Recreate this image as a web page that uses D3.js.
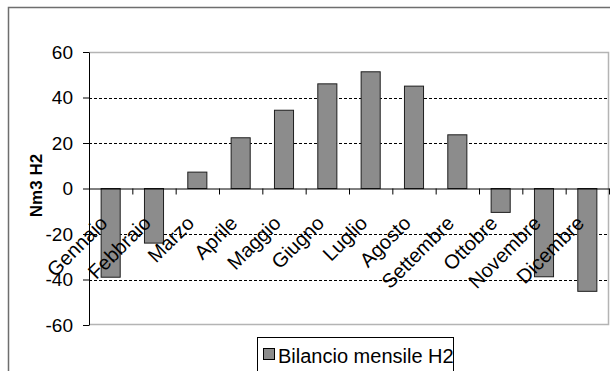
<!DOCTYPE html>
<html>
<head>
<meta charset="utf-8">
<script src="https://cdn.jsdelivr.net/npm/d3@7"></script>
<style>
  body { margin: 0; background: #fff; }
  svg { display: block; font-family: 'Liberation Sans', Arial, sans-serif; }
  .y.axis text { font-size: 19px; fill: #000; }
  .x-label { font-size: 20px; fill: #000; }
</style>
</head>
<body>
<div id="chart"></div>
<script>
// chart data
const months = ['Gennaio', 'Febbraio', 'Marzo', 'Aprile', 'Maggio', 'Giugno',
  'Luglio', 'Agosto', 'Settembre', 'Ottobre', 'Novembre', 'Dicembre']
const balance = [-39, -24, 7.2, 22.3, 34.4, 46, 51.3, 45, 23.6, -10.5, -38.8, -45.2]
const yTicks = [-60, -40, -20, 0, 20, 40, 60]
const gridTicks = [-40, -20, 20, 40]
const seriesName = 'Bilancio mensile H2'

const width = 610
const height = 371
const plot = { left: 89, top: 52, right: 609, bottom: 325 }

const svg = d3.select('#chart').append('svg')
  .attr('width', width)
  .attr('height', height)

// outer chart frame
svg.append('rect')
  .attr('x', 8.5).attr('y', 7.5)
  .attr('width', width + 10).attr('height', height + 10)
  .attr('fill', 'none')
  .attr('stroke', '#6e6e6e')
  .attr('stroke-width', 1.5)

const x = d3.scaleBand()
  .domain(months)
  .range([plot.left, plot.right])
  .paddingInner(0.56)
  .paddingOuter(0.28)

const xEdges = d3.scaleLinear()
  .domain([0, months.length])
  .range([plot.left, plot.right])

const y = d3.scaleLinear()
  .domain([-60, 60])
  .range([plot.bottom, plot.top])

// plot area border (top, right, bottom)
svg.append('path')
  .attr('d', `M${plot.left},${plot.top + 0.5}H${plot.right - 0.5}V${plot.bottom - 0.5}H${plot.left}`)
  .attr('fill', 'none')
  .attr('stroke', '#b4b4b4')
  .attr('stroke-width', 1.5)

// dashed gridlines
svg.append('g')
  .selectAll('line')
  .data(gridTicks)
  .join('line')
  .attr('x1', plot.left)
  .attr('x2', plot.right - 1)
  .attr('y1', d => Math.round(y(d)) + 0.5)
  .attr('y2', d => Math.round(y(d)) + 0.5)
  .attr('stroke', '#000')
  .attr('stroke-dasharray', '3,2')

// bars
svg.append('g')
  .selectAll('rect')
  .data(months)
  .join('rect')
  .attr('x', d => x(d))
  .attr('width', x.bandwidth())
  .attr('y', (d, i) => y(Math.max(0, balance[i])))
  .attr('height', (d, i) => Math.abs(y(balance[i]) - y(0)))
  .attr('fill', '#8c8c8c')
  .attr('stroke', '#1e1e1e')
  .attr('stroke-width', 1)

// y axis (plain hyphen minus like the original)
const yAxis = svg.append('g')
  .attr('class', 'y axis')
  .attr('transform', `translate(${plot.left}, 0)`)
  .call(d3.axisLeft(y)
    .tickValues(yTicks)
    .tickFormat(d => String(d))
    .tickSize(6)
    .tickPadding(10)
    .tickSizeOuter(0))
yAxis.selectAll('text').attr('font-family', null).attr('font-size', null)
yAxis.selectAll('line, path').attr('stroke', '#000')

// x axis on the zero line, ticks at category edges
const xAxis = svg.append('g')
  .attr('transform', `translate(0, ${y(0)})`)
  .call(d3.axisBottom(xEdges)
    .tickValues(d3.range(1, months.length + 1))
    .tickFormat('')
    .tickSize(6)
    .tickSizeOuter(0))
xAxis.selectAll('line, path').attr('stroke', '#000')

// rotated month labels
svg.append('g')
  .selectAll('text')
  .data(months)
  .join('text')
  .attr('class', 'x-label')
  .attr('text-anchor', 'end')
  .attr('transform', d => `translate(${x(d) + x.bandwidth() / 2 - 2}, ${y(0) + 36}) rotate(-45)`)
  .text(d => d)

// y axis title
svg.append('text')
  .attr('transform', `translate(42, ${(plot.top + plot.bottom) / 2 - 3}) rotate(-90)`)
  .attr('text-anchor', 'middle')
  .attr('font-size', 17)
  .attr('font-weight', 'bold')
  .text('Nm3 H2')

// legend
const legend = svg.append('g').attr('transform', 'translate(257, 337)')
legend.append('rect')
  .attr('x', 0.5).attr('y', 0.5)
  .attr('width', 196).attr('height', 40)
  .attr('fill', '#fff')
  .attr('stroke', '#000')
legend.append('rect')
  .attr('x', 6.5).attr('y', 11.5)
  .attr('width', 11).attr('height', 11)
  .attr('fill', '#8c8c8c')
  .attr('stroke', '#000')
legend.append('text')
  .attr('x', 21)
  .attr('y', 26)
  .attr('font-size', 20)
  .text(seriesName)
</script>
</body>
</html>
